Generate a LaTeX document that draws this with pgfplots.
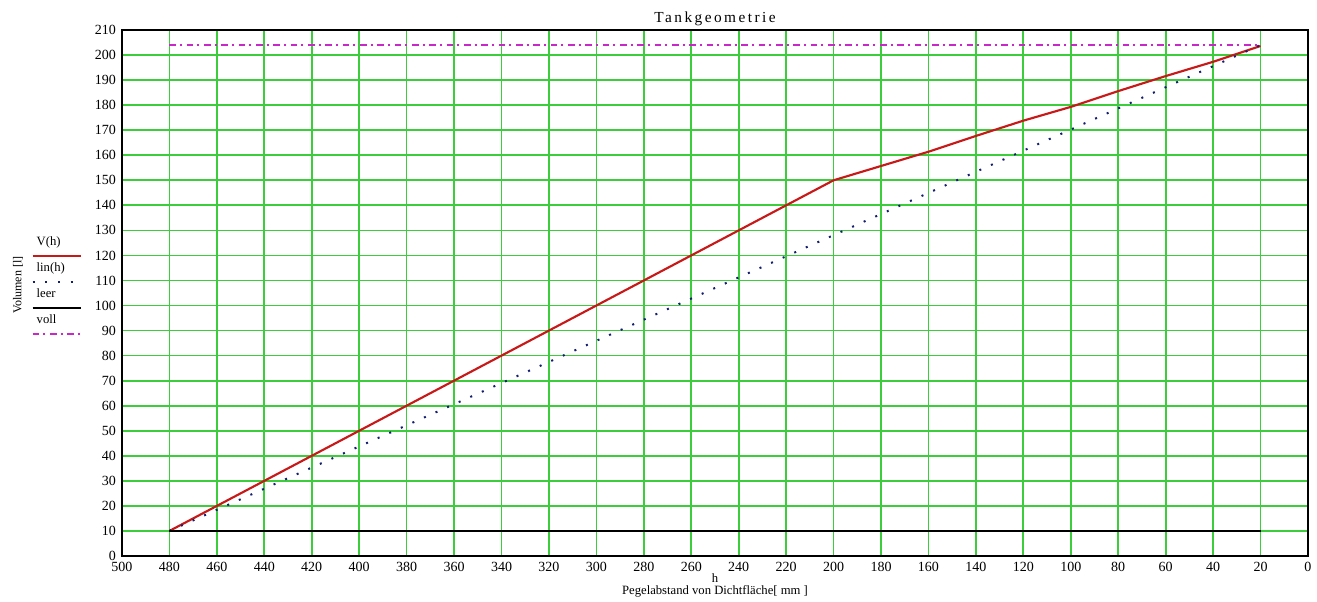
\documentclass[border=0pt]{standalone}
\usepackage{fontspec}
\setmainfont{Liberation Serif}
\newfontfamily\spaced[LetterSpace=16]{Liberation Serif}
\usepackage{pgfplots}
\pgfplotsset{compat=1.18}
\definecolor{gridgreen}{RGB}{60,205,60}
\definecolor{vred}{RGB}{200,25,25}
\definecolor{linblue}{RGB}{20,30,110}
\definecolor{vollmag}{RGB}{200,40,200}
\begin{document}
\begin{tikzpicture}
\begin{axis}[
  scale only axis,
  width=889.5pt, height=394.5pt,
  x dir=reverse,
  xmin=0, xmax=500, ymin=0, ymax=210,
  xtick={0,20,...,500}, ytick={0,10,...,210},
  major tick length=0pt,
  grid=major,
  major grid style={gridgreen, line width=1.3pt},
  axis line style={black, line width=1.5pt},
  /pgf/number format/assume math mode=true,
  ticklabel style={font=\fontsize{10.5}{12}\selectfont},
  xticklabel style={yshift=-1pt},
  yticklabel style={xshift=-1pt},
  title={\spaced\fontsize{11.5}{12}\selectfont Tankgeometrie},
  title style={at={(axis description cs:0.5,1)}, anchor=center, yshift=2.5pt},
  xlabel={h\\Pegelabstand von Dichtfläche[ mm ]},
  xlabel style={align=center, font=\fontsize{9.5}{9}\selectfont, at={(axis description cs:0.5,0)}, anchor=north, yshift=-13pt, inner sep=0pt},
  ylabel={Volumen [l]},
  ylabel style={font=\fontsize{9}{10}\selectfont, at={(axis description cs:-0.0877,0.515)}, anchor=center},
  legend image code/.code={\draw[overlay,#1] (-3pt,-10.5pt) -- (33pt,-10.5pt);},
  legend style={at={(axis description cs:-0.0755,0.614)}, anchor=north west, draw=none, fill=none,
    font=\fontsize{9.5}{10}\selectfont, row sep=10.5pt, column sep=0pt,
    nodes={inner sep=0pt, text height=7pt, text depth=2pt}},
  legend cell align=left,
  clip=false,
]
\addplot[vred, line width=1.6pt] coordinates {
(480,10) (460,20) (440,30) (420,40) (400,50) (380,60) (360,70) (340,80) (320,90) (300,100)
(280,110) (260,120) (240,130) (220,140) (200,150) (180,155.7) (160,161.4) (140,167.7)
(120,173.8) (100,179.3) (80,185.6) (60,191.6) (40,197.3) (20,203.6)};
\addlegendentry{V(h)}
\addplot[linblue, line width=1.5pt, dash pattern=on 1.5pt off 8pt] coordinates {(480,10) (20,204)};
\addlegendentry{lin(h)}
\addplot[black, line width=1.5pt] coordinates {(480,10) (20,10)};
\addlegendentry{leer}
\addplot[vollmag, line width=1.5pt, dash pattern=on 5pt off 3pt on 1.5pt off 3.5pt] coordinates {(480,204) (20,204)};
\addlegendentry{voll}
\end{axis}
\pgfresetboundingbox
\path ([xshift=-91.5pt,yshift=-34.5pt]current axis.south west) rectangle ([xshift=6.75pt,yshift=22.5pt]current axis.north east);
\end{tikzpicture}
\end{document}
